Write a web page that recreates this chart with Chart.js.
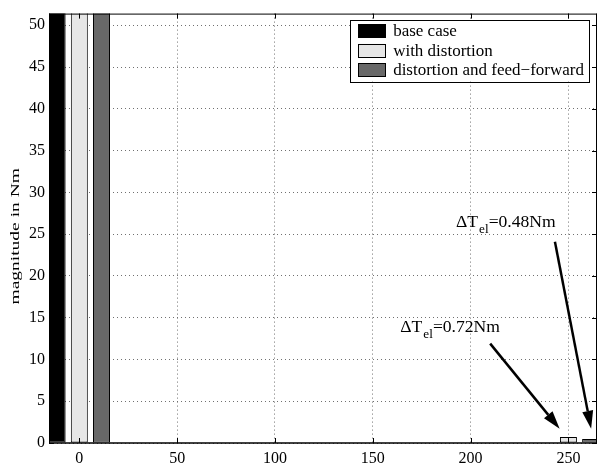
<!DOCTYPE html>
<html>
<head>
<meta charset="utf-8">
<script src="https://cdn.jsdelivr.net/npm/chart.js@4.4.0/dist/chart.umd.min.js"></script>
<style>
  html, body { margin: 0; padding: 0; background: #fff; }
</style>
</head>
<body>
<canvas id="chart" width="597" height="468"></canvas>
<script>
// harmonic positions and magnitudes (Nm); the DC bars run off the top of the axes
var positions = [0, 250];
var baseCase = [70, 0];
var withDistortion = [70, 0.72];
var feedForward = [70, 0.48];

var seriesNames = ['base case', 'with distortion', 'distortion and feed\u2212forward'];
var seriesColors = ['#000000', '#e6e6e6', '#686868'];

var xTicks = [0, 50, 100, 150, 200, 250];
var yTicks = [0, 5, 10, 15, 20, 25, 30, 35, 40, 45, 50];

// arrow notes, in data units
var notes = [
    { value: '0.72Nm', x: 164, y: 13.3, fromX: 210, fromY: 11.9, toX: 245.5, toY: 1.7 },
    { value: '0.48Nm', x: 192.5, y: 25.8, fromX: 243.1, fromY: 24.1, toX: 261.6, toY: 1.7 }
];

var serif = '"Liberation Serif", "DejaVu Serif", serif';

function points(values){
    return values.map(function(v, i){ return { x: positions[i], y: v }; });
}

// box round the axes with inward ticks, matlab style
var frame = {
    id: 'frame',
    afterDatasetsDraw: function(chart){
        var ctx = chart.ctx, a = chart.chartArea;
        var xs = chart.scales.x, ys = chart.scales.y;
        ctx.save();
        ctx.strokeStyle = '#000';
        ctx.lineWidth = 1;
        ctx.beginPath();
        ctx.moveTo(a.left, a.top + 0.5); ctx.lineTo(a.right, a.top + 0.5);
        ctx.moveTo(a.right - 0.5, a.top); ctx.lineTo(a.right - 0.5, a.bottom);
        ctx.moveTo(a.left + 0.5, a.top); ctx.lineTo(a.left + 0.5, a.bottom);
        xTicks.forEach(function(t){
            var px = Math.round(xs.getPixelForValue(t)) + 0.5;
            ctx.moveTo(px, a.bottom); ctx.lineTo(px, a.bottom - 5);
            ctx.moveTo(px, a.top); ctx.lineTo(px, a.top + 5);
        });
        yTicks.forEach(function(t){
            var py = Math.round(ys.getPixelForValue(t)) + 0.5;
            ctx.moveTo(a.left, py); ctx.lineTo(a.left + 5, py);
            ctx.moveTo(a.right, py); ctx.lineTo(a.right - 5, py);
        });
        ctx.stroke();
        ctx.lineWidth = 1.5;
        ctx.beginPath();
        ctx.moveTo(a.left, a.bottom); ctx.lineTo(a.right, a.bottom);
        ctx.stroke();
        ctx.restore();
    }
};

var boxLegend = {
    id: 'boxLegend',
    afterDraw: function(chart){
        var ctx = chart.ctx, a = chart.chartArea;
        ctx.save();
        ctx.font = '17px ' + serif;
        var maxW = 0;
        seriesNames.forEach(function(n){ maxW = Math.max(maxW, ctx.measureText(n).width); });
        var rowH = 19.5;
        var w = 8 + 27 + 8 + maxW + 5;
        var h = rowH * seriesNames.length + 3;
        var left = a.right - 8 - w, top = a.top + 6;
        ctx.fillStyle = '#fff';
        ctx.fillRect(left, top, w, h);
        ctx.strokeStyle = '#000';
        ctx.lineWidth = 1;
        ctx.strokeRect(Math.round(left) + 0.5, Math.round(top) + 0.5, Math.round(w), Math.round(h));
        ctx.textBaseline = 'middle';
        seriesNames.forEach(function(n, i){
            var cy = top + 1.5 + rowH * (i + 0.5);
            ctx.fillStyle = seriesColors[i];
            ctx.fillRect(left + 8, cy - 6.5, 27, 13);
            ctx.strokeRect(Math.round(left + 8) + 0.5, Math.round(cy - 6.5) + 0.5, 27, 13);
            ctx.fillStyle = '#000';
            ctx.fillText(n, left + 8 + 27 + 8, cy + 1);
        });
        ctx.restore();
    }
};

var arrows = {
    id: 'arrows',
    afterDatasetsDraw: function(chart){
        var ctx = chart.ctx;
        var xs = chart.scales.x, ys = chart.scales.y;
        ctx.save();
        notes.forEach(function(n){
            var x0 = xs.getPixelForValue(n.fromX), y0 = ys.getPixelForValue(n.fromY);
            var x1 = xs.getPixelForValue(n.toX), y1 = ys.getPixelForValue(n.toY);
            var ang = Math.atan2(y1 - y0, x1 - x0);
            var headL = 18, headW = 5.5;
            var bx = x1 - headL * Math.cos(ang), by = y1 - headL * Math.sin(ang);
            ctx.strokeStyle = '#000';
            ctx.lineWidth = 2.5;
            ctx.beginPath();
            ctx.moveTo(x0, y0);
            ctx.lineTo(bx, by);
            ctx.stroke();
            ctx.fillStyle = '#000';
            ctx.beginPath();
            ctx.moveTo(x1, y1);
            ctx.lineTo(bx + headW * Math.sin(ang), by - headW * Math.cos(ang));
            ctx.lineTo(bx - headW * Math.sin(ang), by + headW * Math.cos(ang));
            ctx.closePath();
            ctx.fill();

            // label: ΔT_el=value
            var tx = xs.getPixelForValue(n.x), ty = ys.getPixelForValue(n.y);
            ctx.save();
            ctx.translate(tx, ty);
            ctx.scale(1.1, 1);
            ctx.textBaseline = 'alphabetic';
            ctx.font = '16px ' + serif;
            ctx.fillText('\u0394T', 0, 0);
            var cx = ctx.measureText('\u0394T').width + 1;
            ctx.font = '12px ' + serif;
            ctx.fillText('el', cx, 6);
            cx += ctx.measureText('el').width;
            ctx.font = '16px ' + serif;
            ctx.fillText('=' + n.value, cx, 0);
            ctx.restore();
        });
        ctx.restore();
    }
};

var yTitle = {
    id: 'yTitle',
    afterDraw: function(chart){
        var ctx = chart.ctx, a = chart.chartArea;
        ctx.save();
        ctx.translate(16, (a.top + a.bottom) / 2 + 8);
        ctx.rotate(-Math.PI / 2);
        ctx.scale(1.5, 1);
        ctx.font = '13px ' + serif;
        ctx.fillStyle = '#000';
        ctx.textAlign = 'center';
        ctx.textBaseline = 'middle';
        ctx.fillText('magnitude in Nm', 0, 0);
        ctx.restore();
    }
};

function drawChart(){
    var ctx = document.getElementById('chart');
    var grid = { color: '#707070', lineWidth: 1, drawTicks: false, offset: false };
    var border = { display: false, dash: [1, 3] };

    new Chart(ctx, {
        type: 'bar',
        data: {
            datasets: [
                { label: seriesNames[0], data: points(baseCase), backgroundColor: seriesColors[0] },
                { label: seriesNames[1], data: points(withDistortion), backgroundColor: seriesColors[1] },
                { label: seriesNames[2], data: points(feedForward), backgroundColor: seriesColors[2] }
            ]
        },
        options: {
            responsive: false,
            animation: false,
            devicePixelRatio: 1,
            layout: { padding: { top: 10, right: 0, left: 0, bottom: 0 } },
            datasets: {
                bar: {
                    borderColor: '#000',
                    borderWidth: 1,
                    borderSkipped: false,
                    categoryPercentage: 0.68,
                    barPercentage: 0.766
                }
            },
            scales: {
                x: {
                    type: 'linear',
                    offset: false,
                    min: -15.5,
                    max: 264.6,
                    afterBuildTicks: function(s){ s.ticks = xTicks.map(function(v){ return { value: v }; }); },
                    afterFit: function(s){ s.height = 25; },
                    grid: grid,
                    border: border,
                    ticks: { autoSkip: false, maxRotation: 0, padding: 6, color: '#000', font: { family: serif, size: 16 } }
                },
                y: {
                    min: 0,
                    max: 51.4,
                    afterBuildTicks: function(s){ s.ticks = yTicks.map(function(v){ return { value: v }; }); },
                    afterFit: function(s){ s.width = 49; },
                    grid: grid,
                    border: border,
                    ticks: { autoSkip: false, padding: 4, color: '#000', font: { family: serif, size: 16 } }
                }
            },
            plugins: {
                legend: { display: false },
                tooltip: { enabled: false }
            }
        },
        plugins: [frame, arrows, boxLegend, yTitle]
    });
}

drawChart();
</script>
</body>
</html>
